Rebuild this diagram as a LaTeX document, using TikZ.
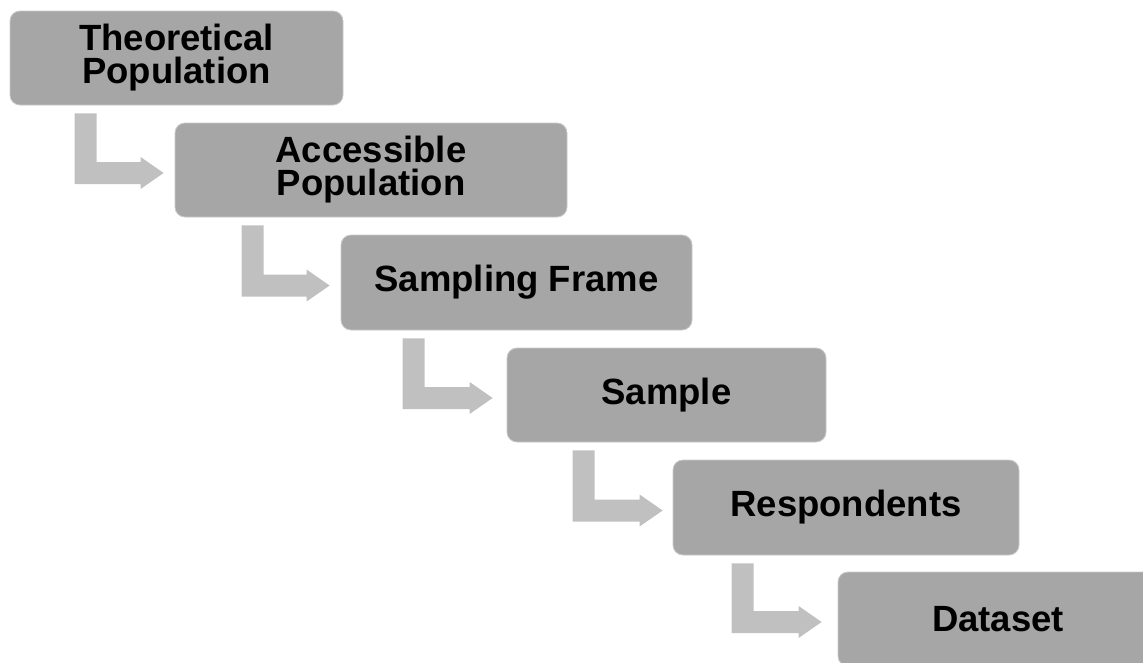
\documentclass[tikz,border=0pt]{standalone}
\usepackage{fontspec}
\setmainfont{Liberation Sans}
\usetikzlibrary{calc}
\definecolor{boxgray}{HTML}{A6A6A6}
\definecolor{boxedge}{HTML}{C8C8C8}
\definecolor{arrowgray}{HTML}{C0C0C0}
\tikzset{
  stagebox/.style={rectangle, rounded corners=10pt, fill=boxgray, draw=boxedge,
    line width=0.8pt, inner sep=0pt, align=center,
    font=\fontsize{36.5}{33}\selectfont\bfseries},
  bentarrow/.style={fill=arrowgray, draw=none}
}
% #1 source, #2 target, #3 bar offset from source left, #4 tip offset from target left
\newcommand{\bentconn}[4]{%
  \path[bentarrow] let \p1=(#1.south west), \p2=(#2.west) in
   (\x1+#3pt,\y1-8pt) -- (\x1+#3pt+22pt,\y1-8pt) -- (\x1+#3pt+22pt,\y2+8pt)
   -- (\x2-#4pt-23pt,\y2+8pt) -- (\x2-#4pt-23pt,\y2+13pt) -- (\x2-#4pt,\y2-3pt)
   -- (\x2-#4pt-23pt,\y2-19pt) -- (\x2-#4pt-23pt,\y2-14pt) -- (\x1+#3pt,\y2-14pt) -- cycle;}
\begin{document}
\begin{tikzpicture}[x=1pt,y=-1pt]
\clip (0,0) rectangle (1143,662);
\useasboundingbox (0,0) rectangle (1143,662);
\node[stagebox, minimum width=333pt, minimum height=94pt] (b1) at (176.5,58) {Theoretical\\Population};
\node[stagebox, minimum width=392pt, minimum height=94pt] (b2) at (371,170) {Accessible\\Population};
\node[stagebox, minimum width=351pt, minimum height=95pt] (b3) at (516.5,282.5) {Sampling Frame};
\node[stagebox, minimum width=319pt, minimum height=94pt] (b4) at (666.5,395) {Sample};
\node[stagebox, minimum width=346pt, minimum height=95pt] (b5) at (846,507.5) {Respondents};
\node[stagebox, minimum width=320pt, minimum height=94pt, text width=320pt] (b6) at (998,619) {Dataset};
\bentconn{b1}{b2}{65}{11}
\bentconn{b2}{b3}{67}{11}
\bentconn{b3}{b4}{62}{14}
\bentconn{b4}{b5}{66}{10}
\bentconn{b5}{b6}{59}{16}
\end{tikzpicture}
\end{document}
